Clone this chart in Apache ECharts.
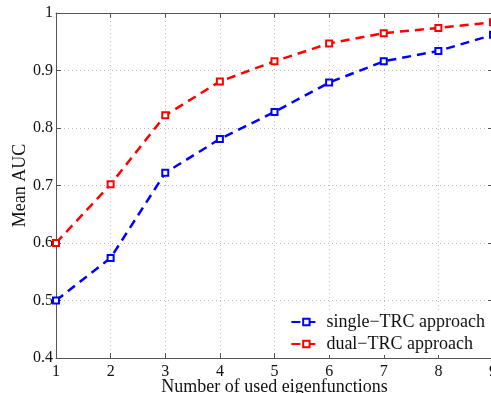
<!DOCTYPE html>
<html>
<head>
<meta charset="utf-8">
<script src="https://cdn.jsdelivr.net/npm/echarts@6/dist/echarts.min.js"></script>
<style>
  html, body { margin: 0; padding: 0; background: #fff; }
  #chart { width: 491px; height: 393px; }
</style>
</head>
<body>
<div id="chart"></div>
<script>
const eigenCounts = [1, 2, 3, 4, 5, 6, 7, 8, 9];
const singleTRC = [0.5, 0.574, 0.722, 0.781, 0.828, 0.879, 0.916, 0.934, 0.962];
const dualTRC = [0.6, 0.702, 0.822, 0.881, 0.916, 0.947, 0.965, 0.974, 0.984];

const toPairs = (vals) => vals.map((v, i) => [eigenCounts[i], v]);

const font = "Liberation Serif";
const axisLine = { show: true, lineStyle: { color: "#555", width: 1 } };
const inTicks = { show: true, inside: true, length: 5, lineStyle: { color: "#555" } };

const chart = echarts.init(document.getElementById("chart"));

const seriesStyle = (name, color, vals) => ({
  name: name,
  type: "line",
  data: toPairs(vals),
  symbol: "rect",
  symbolSize: 6,
  lineStyle: { color: color, width: 2.5, type: [9, 6] },
  itemStyle: { color: "#fff", borderColor: color, borderWidth: 2 },
  z: 3,
});

chart.setOption({
  animation: false,
  backgroundColor: "#fff",
  grid: { left: 56, top: 13, right: -2, bottom: 35, outerBoundsMode: "none", containLabel: false },
  legend: {
    orient: "vertical",
    right: 2,
    bottom: 38,
    itemGap: 4,
    itemWidth: 30,
    itemHeight: 8,
    backgroundColor: "#fff",
    padding: [2, 4, 2, 4],
    textStyle: { fontFamily: font, fontSize: 18, color: "#111" },
    data: ["single\u2212TRC approach", "dual\u2212TRC approach"],
  },
  xAxis: [
    {
      type: "value",
      min: 1,
      max: 9,
      interval: 1,
      axisLine: axisLine,
      axisTick: inTicks,
      axisLabel: { fontFamily: font, fontSize: 16, color: "#111", margin: 6 },
      splitLine: { show: true, lineStyle: { color: "#bbb", type: [1, 3] } },
      name: "Number of used eigenfunctions",
      nameLocation: "middle",
      nameGap: 20,
      nameMoveOverlap: false,
      nameTextStyle: { fontFamily: font, fontSize: 18, color: "#111" },
    },
    {
      type: "value",
      position: "top",
      min: 1,
      max: 9,
      interval: 1,
      axisLine: axisLine,
      axisTick: inTicks,
      axisLabel: { show: false },
      splitLine: { show: false },
    },
  ],
  yAxis: [
    {
      type: "value",
      min: 0.4,
      max: 1,
      interval: 0.1,
      axisLine: axisLine,
      axisTick: inTicks,
      axisLabel: {
        fontFamily: font,
        fontSize: 16,
        color: "#111",
        margin: 3,
        formatter: (v) => (v === 1 ? "1" : v.toFixed(1)),
      },
      splitLine: { show: true, lineStyle: { color: "#bbb", type: [1, 3] } },
      name: "Mean AUC",
      nameLocation: "middle",
      nameGap: 27,
      nameMoveOverlap: false,
      nameTextStyle: { fontFamily: font, fontSize: 18, color: "#111" },
    },
    {
      type: "value",
      position: "right",
      min: 0.4,
      max: 1,
      interval: 0.1,
      axisLine: axisLine,
      axisTick: inTicks,
      axisLabel: { show: false },
      splitLine: { show: false },
    },
  ],
  series: [
    seriesStyle("single\u2212TRC approach", "#0000ff", singleTRC),
    seriesStyle("dual\u2212TRC approach", "#ff0000", dualTRC),
  ],
});
</script>
</body>
</html>
